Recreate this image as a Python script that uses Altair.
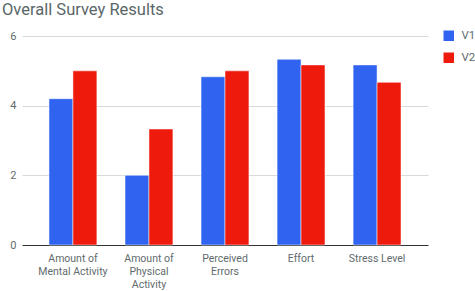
import altair as alt
import pandas as pd

categories = ["Amount of\nMental Activity", "Amount of\nPhysical\nActivity", "Perceived\nErrors", "Effort", "Stress Level"]
v1 = [4.2, 2.0, 4.83, 5.33, 5.17]
v2 = [5.0, 3.33, 5.0, 5.17, 4.67]
series = ["V1", "V2"]
colors = ["#2f63f0", "#ee1a0c"]

rows = []
for c, a, b in zip(categories, v1, v2):
    rows.append({"cat": c, "series": "V1", "value": a})
    rows.append({"cat": c, "series": "V2", "value": b})
df = pd.DataFrame(rows)

font = "Roboto"
chart = alt.Chart(df).mark_bar(stroke="white", strokeWidth=0.5).encode(
    x=alt.X("cat:N", sort=categories,
            scale=alt.Scale(paddingInner=0.37, paddingOuter=0.355),
            axis=alt.Axis(title=None, labelAngle=0, labelExpr="split(datum.label, '\\n')",
                          labelFontSize=10.5, labelColor="#5f6b6d", labelFont=font,
                          labelLineHeight=13, labelPadding=8, ticks=False,
                          domainColor="#333333", domainWidth=1.2, grid=False)),
    xOffset=alt.XOffset("series:N", sort=series),
    y=alt.Y("value:Q", scale=alt.Scale(domain=[0, 6]),
            axis=alt.Axis(title=None, values=[0, 2, 4, 6], domain=False, ticks=False,
                          labelFontSize=11, labelColor="#5f6b6d", labelFont=font,
                          labelPadding=6, gridColor="#d5dbdb", gridWidth=1)),
    color=alt.Color("series:N", sort=series,
                    scale=alt.Scale(domain=series, range=colors),
                    legend=alt.Legend(title=None, orient="none", legendX=421, legendY=-6,
                                      symbolType="square", symbolSize=110, symbolStrokeWidth=0,
                                      labelFontSize=11.5, labelColor="#5f6b6d", labelFont=font,
                                      rowPadding=9, labelOffset=7)),
).properties(
    width=406, height=209,
    title=alt.TitleParams("Overall Survey Results", anchor="start", frame="group",
                          dx=-20, offset=12, fontSize=16.5, font=font, fontWeight="normal",
                          color="#5a6769"),
    autosize=alt.AutoSizeParams(type="none"),
    padding={"left": 22, "top": 36, "right": 47, "bottom": 46},
).configure_view(stroke=None)

chart.save("out.html", embed_options={"renderer": "svg", "actions": False})
